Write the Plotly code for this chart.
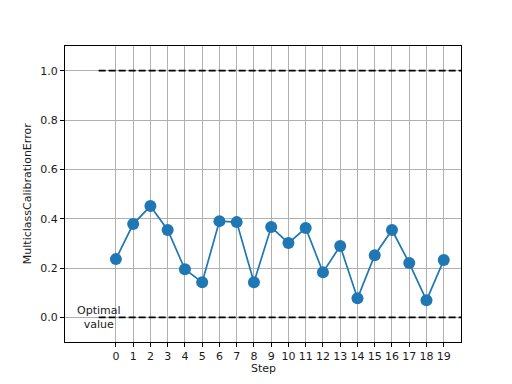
import plotly.graph_objects as go

steps = list(range(20))
values = [0.236, 0.378, 0.451, 0.354, 0.195, 0.142, 0.390, 0.386, 0.142, 0.366,
          0.301, 0.362, 0.183, 0.289, 0.077, 0.252, 0.354, 0.220, 0.069, 0.232]
y_ticks = [0.0, 0.2, 0.4, 0.6, 0.8, 1.0]
worst_value = 1.0
optimal_value = 0.0
ref_x = [-1, 20]
x_title = "Step"
y_title = "MulticlassCalibrationError"

font = dict(family="DejaVu Sans", size=11, color="#1a1a1a")

fig = go.Figure()
fig.add_trace(go.Scatter(x=ref_x, y=[worst_value, worst_value], mode="lines",
                         line=dict(color="black", width=1.8, dash="7px,3px"),
                         showlegend=False, hoverinfo="skip"))
fig.add_trace(go.Scatter(x=ref_x, y=[optimal_value, optimal_value], mode="lines",
                         line=dict(color="black", width=1.8, dash="7px,3px"),
                         showlegend=False, hoverinfo="skip"))
fig.add_trace(go.Scatter(x=steps, y=values, mode="lines+markers",
                         line=dict(color="#1f77b4", width=1.7),
                         marker=dict(color="#1f77b4", size=12),
                         showlegend=False))
fig.add_annotation(x=-1, y=optimal_value, text="Optimal<br>value", showarrow=False,
                   xanchor="center", yanchor="middle", font=font)
fig.add_annotation(xref="paper", yref="paper", x=0.5, y=-0.062, text=x_title,
                   showarrow=False, xanchor="center", yanchor="top", font=font)
fig.add_annotation(xref="paper", yref="paper", x=-0.074, y=0.5, text=y_title,
                   textangle=-90, showarrow=False, xanchor="right", yanchor="middle", font=font)

fig.update_layout(
    width=504, height=376,
    margin=dict(l=57, r=51, t=38, b=42),
    paper_bgcolor="white", plot_bgcolor="white",
    font=font,
    xaxis=dict(range=[-2.95, 20], tickvals=steps, ticktext=[str(s) for s in steps],
               showgrid=True, gridcolor="#b0b0b0", gridwidth=1,
               showline=True, linecolor="black", linewidth=1, mirror=True,
               ticks="outside", ticklen=4, tickcolor="black",
               zeroline=False, automargin=False),
    yaxis=dict(range=[-0.1, 1.1], tickvals=y_ticks, tickformat=".1f",
               showgrid=True, gridcolor="#b0b0b0", gridwidth=1,
               showline=True, linecolor="black", linewidth=1, mirror=True,
               ticks="outside", ticklen=4, tickcolor="black",
               zeroline=False, automargin=False),
)

fig.write_html("out.html")
